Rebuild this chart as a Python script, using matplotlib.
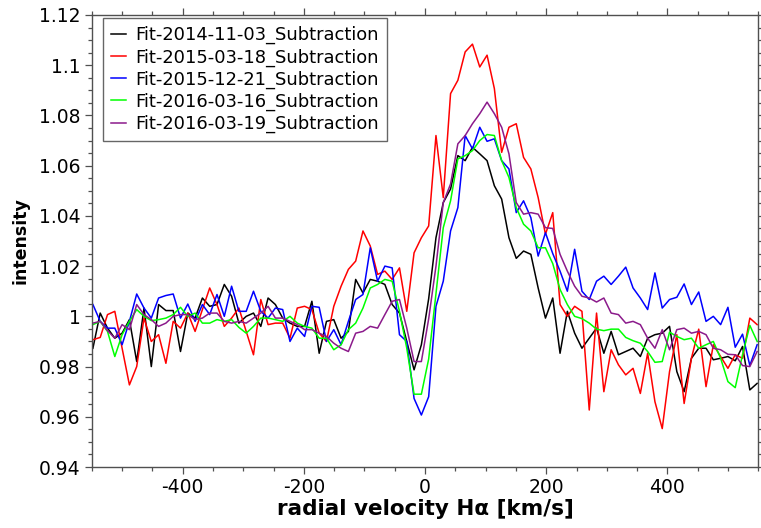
import numpy as np
import matplotlib
matplotlib.use("Agg")
import matplotlib.pyplot as plt
from matplotlib.ticker import MultipleLocator

plt.rcParams['font.family'] = ['DejaVu Sans']
plt.rcParams['axes.unicode_minus'] = False

# Radial-velocity grid of the H-alpha profiles (km/s)
velocity = np.linspace(-548, 548, 92)

labels = [
    "Fit-2014-11-03_Subtraction",
    "Fit-2015-03-18_Subtraction",
    "Fit-2015-12-21_Subtraction",
    "Fit-2016-03-16_Subtraction",
    "Fit-2016-03-19_Subtraction",
]
colors = ["#000000", "#ff0000", "#0000ff", "#00ff00", "#8b1a8b"]

fit_2014_11_03 = [
    0.9873, 1.0013, 0.9953, 0.9913, 0.9933, 0.9987, 0.982, 1.0033, 0.98, 1.0047,
    1.0023, 1.0023, 0.986, 1.0013, 0.9993, 1.0073, 1.004, 1.0047, 1.0127, 1.008,
    0.9973, 1.0, 1.0013, 0.996, 1.0073, 1.0047, 0.9993, 0.9973, 0.996, 0.996,
    1.006, 0.9853, 0.998, 0.9987, 0.9913, 0.994, 1.0147, 1.0093, 1.0147, 1.014,
    1.0127, 1.0047, 1.0013, 0.99, 0.9787, 0.9887, 1.007, 1.0313, 1.0453, 1.0507,
    1.064, 1.062, 1.0673, 1.0647, 1.062, 1.052, 1.0467, 1.0313, 1.0231, 1.026,
    1.0247, 1.0113, 0.9993, 1.0073, 0.9853, 1.002, 0.9933, 0.9873, 0.9913, 0.9953,
    0.9853, 0.994, 0.9847, 0.986, 0.9873, 0.984, 0.9913, 0.9927, 0.9933, 0.996,
    0.978, 0.97, 0.9833, 0.9873, 0.9873, 0.9827, 0.9833, 0.984, 0.9823, 0.988,
    0.9707, 0.9733,
]

fit_2015_03_18 = [
    0.9907, 0.9916, 1.0007, 1.002, 0.9873, 0.9727, 0.98, 0.9993, 0.99, 0.9927,
    0.9813, 0.998, 0.9953, 1.0013, 0.994, 1.0027, 1.0113, 1.0047, 0.996, 0.9993,
    1.0033, 0.994, 0.9847, 1.0067, 0.9967, 0.9973, 0.9973, 0.9913, 1.0033, 1.004,
    1.0027, 0.9933, 0.99, 1.004, 1.012, 1.0187, 1.022, 1.034, 1.028, 1.0167,
    1.018, 1.0147, 1.0193, 1.002, 1.0253, 1.0313, 1.036, 1.072, 1.0473, 1.0887,
    1.094, 1.1053, 1.1084, 1.0993, 1.104, 1.0907, 1.0653, 1.0753, 1.0767, 1.0633,
    1.0587, 1.0473, 1.0327, 1.0413, 1.0047, 1.0, 1.004, 1.002, 0.9627, 1.0013,
    0.97, 0.9867, 0.9807, 0.9767, 0.9793, 0.9693, 0.9853, 0.966, 0.9553, 0.978,
    0.9927, 0.9653, 0.9833, 0.9949, 0.972, 0.9887, 0.984, 0.9793, 0.9847, 0.9833,
    0.9993, 0.9967,
]

fit_2015_12_21 = [
    1.0047, 0.998, 0.9953, 0.9953, 0.9887, 0.998, 1.0089, 1.0033, 0.9993, 1.0073,
    1.0083, 1.0089, 0.9993, 1.0049, 0.998, 1.0047, 1.0007, 1.0087, 1.0, 1.012,
    1.002, 1.002, 1.01, 1.002, 0.9993, 1.0033, 1.0027, 0.99, 0.9953, 0.992,
    1.004, 1.0036, 0.99, 0.9947, 0.9887, 0.998, 1.0067, 1.0087, 1.0273, 1.014,
    1.02, 1.0193, 0.9927, 0.99, 0.9673, 0.9607, 0.968, 1.004, 1.014, 1.034,
    1.0433, 1.072, 1.0667, 1.0753, 1.0697, 1.0707, 1.062, 1.0587, 1.0413, 1.046,
    1.0393, 1.024, 1.0333, 1.025, 1.018, 1.01, 1.0267, 1.01, 1.0067, 1.014,
    1.016, 1.0127, 1.016, 1.0196, 1.0113, 1.0073, 1.0027, 1.0173, 1.0033, 1.0067,
    1.0076, 1.0129, 1.0047, 1.0097, 0.998, 1.0, 0.9967, 1.0036, 0.9877, 0.9929,
    0.9804, 0.9887,
]

fit_2016_03_16 = [
    0.9967, 0.998, 0.994, 0.984, 0.9927, 0.998, 1.0027, 1.0, 0.9983, 0.9987,
    0.9993, 1.0007, 1.0036, 1.0, 1.0013, 0.9973, 0.9973, 0.9987, 0.998, 0.9987,
    0.9956, 0.9933, 0.996, 0.9993, 0.9993, 0.9987, 0.998, 1.0, 0.9973, 0.996,
    0.9953, 0.9913, 0.9913, 0.9867, 0.9887, 0.9947, 0.9973, 1.0033, 1.0113, 1.0127,
    1.0147, 1.014, 1.002, 0.9873, 0.969, 0.969, 0.983, 1.009, 1.0353, 1.046,
    1.0627, 1.064, 1.066, 1.07, 1.0724, 1.072, 1.062, 1.0553, 1.0433, 1.0367,
    1.034, 1.0273, 1.0273, 1.021, 1.0107, 1.0047, 1.0, 0.9991, 0.9973, 0.9949,
    0.9943, 0.9949, 0.9949, 0.9916, 0.9903, 0.9893, 0.986, 0.9817, 0.982, 0.9937,
    0.992, 0.9907, 0.9913, 0.9873, 0.9887, 0.99, 0.9833, 0.974, 0.9716, 0.9847,
    0.9964, 0.99,
]

fit_2016_03_19 = [
    0.9973, 0.998, 0.9943, 0.9913, 0.9967, 0.9947, 1.0047, 1.0007, 0.9987, 0.996,
    0.9973, 1.0, 1.0007, 1.0007, 0.9987, 0.9993, 1.0013, 1.0013, 0.998, 0.9973,
    0.998, 0.9973, 0.9993, 1.0013, 1.004, 0.9993, 0.9993, 0.998, 0.9967, 0.9947,
    0.9947, 0.9933, 0.992, 0.9893, 0.9873, 0.986, 0.9933, 0.994, 0.996, 0.9953,
    1.0007, 1.006, 1.0067, 0.9953, 0.982, 0.982, 0.999, 1.02, 1.0453, 1.0527,
    1.0687, 1.072, 1.0767, 1.0807, 1.0853, 1.0807, 1.0753, 1.0647, 1.0453, 1.0407,
    1.0413, 1.0407, 1.0353, 1.035, 1.0247, 1.018, 1.012, 1.008, 1.0073, 1.0057,
    1.0073, 1.0013, 1.0007, 0.9973, 0.998, 0.9967, 0.9913, 0.9873, 0.9947, 0.9867,
    0.9947, 0.9953, 0.9933, 0.994, 0.9927, 0.9873, 0.9867, 0.9849, 0.9847, 0.9804,
    0.98, 0.986,
]

series = [fit_2014_11_03, fit_2015_03_18, fit_2015_12_21, fit_2016_03_16, fit_2016_03_19]

fig = plt.figure(figsize=(7.61, 5.28), dpi=100)
ax = fig.add_axes([0.1205, 0.1155, 0.8760, 0.8561])

for values, label, color in zip(series, labels, colors):
    ax.plot(velocity, values, color=color, lw=1.1, label=label)

ax.set_xlim(-550, 550)
ax.set_ylim(0.94, 1.12)
ax.xaxis.set_major_locator(MultipleLocator(200))
ax.xaxis.set_minor_locator(MultipleLocator(50))
ax.yaxis.set_minor_locator(MultipleLocator(0.005))
ax.set_yticks(np.arange(0.94, 1.1201, 0.02))
ax.set_yticklabels(["0.94", "0.96", "0.98", "1", "1.02", "1.04", "1.06", "1.08", "1.1", "1.12"])

spine_color = "#505050"
for sp in ax.spines.values():
    sp.set_color(spine_color)
    sp.set_linewidth(1.0)
ax.tick_params(which="both", direction="out", top=True, right=True,
               color=spine_color, width=0.9, labelsize=13.5, labelcolor="black")
ax.tick_params(which="major", length=5, pad=3)
ax.tick_params(which="minor", length=3)
ax.tick_params(axis="x", which="both", labeltop=False)
ax.tick_params(axis="y", which="both", labelright=False)

ax.set_xlabel("radial velocity Hα [km/s]", fontsize=15.5, fontweight="bold", labelpad=1)
ax.set_ylabel("intensity", fontsize=12.5, fontweight="bold", labelpad=7)

leg = ax.legend(loc="upper left", bbox_to_anchor=(0.017, 0.9934), borderaxespad=0,
                fontsize=12.9, frameon=True, fancybox=False, handlelength=0.85,
                handletextpad=0.5, labelspacing=0.22, borderpad=0.45)
leg.get_frame().set_edgecolor("#404040")
leg.get_frame().set_linewidth(1.0)

fig.savefig("out.png", dpi=100)
